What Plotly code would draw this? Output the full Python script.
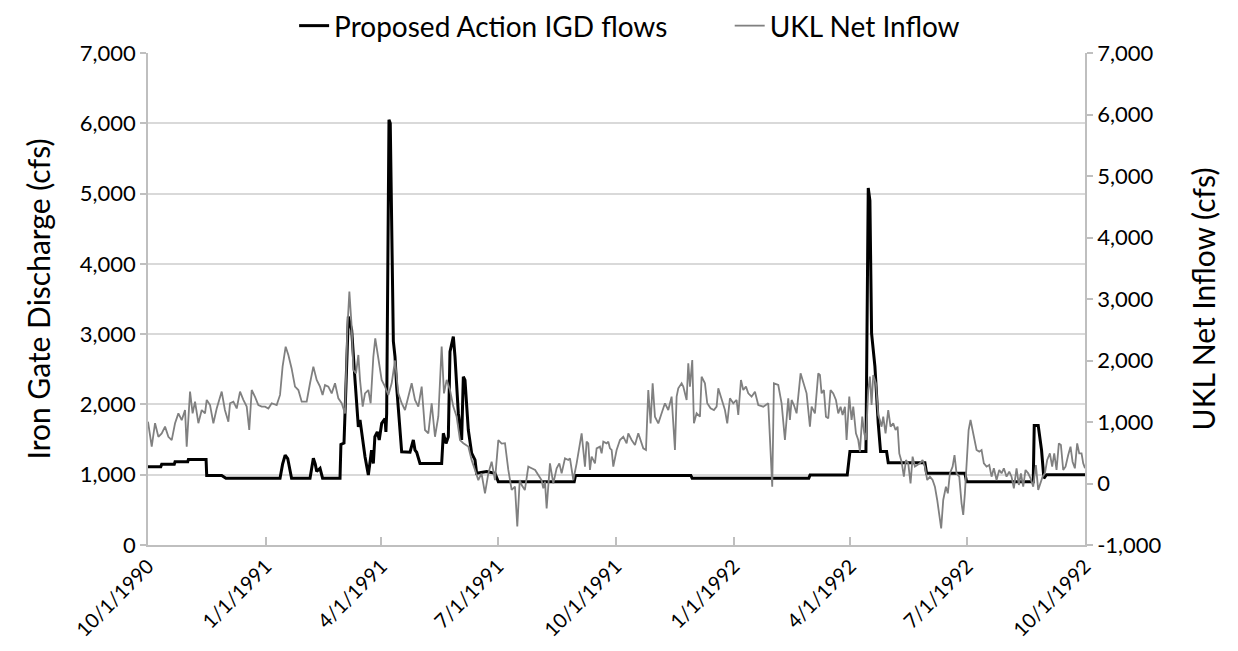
import pandas as pd
import plotly.graph_objects as go

START = pd.Timestamp("1990-10-01")

# Proposed Action IGD flows (left axis), day offsets from 10/1/1990
igd_days = [0, 10, 10.7, 20.5, 21.1, 31, 31.5, 45.3, 45.8, 57.5, 60.8, 103, 105, 107, 109, 112, 126.4, 128, 129, 130.5, 131.6, 133, 134.2, 136.2,
            149.8, 150.5, 152.9, 156.3, 158.9, 161.5, 162.8, 164.1, 165.4, 167.4, 169.3, 171.9, 173.2, 174.4, 175.8, 177, 178.9, 180.4,
            182.3, 184.9, 185.6, 186.2, 188, 189, 191.4, 192.7, 194, 195.3, 197.9, 204.4, 207, 208.3, 209.6, 212.2, 229.1, 230.4,
            232.5, 234.3, 235.6, 238.2, 239.5, 242.1, 244.7, 246, 247.3, 249.9, 252.5, 255.1, 256.4, 264.2, 270.7, 273.3,
            332.5, 333.5, 423.5, 424.5, 515.5, 516.5, 545.5, 547.6, 560.1, 561.9, 563.2, 564.5, 567.1, 569.7, 571.5, 576.2, 577.5,
            606.1, 607.4, 637.3, 638.6, 690.6, 691.4, 694.5, 697.1, 698.9, 701, 731]
igd_cfs = [1115, 1115, 1150, 1150, 1185, 1185, 1215, 1215, 990, 990, 950, 950, 1150, 1280, 1230, 950, 950, 1150, 1235, 1150, 1045, 1070, 1090, 950,
           950, 1430, 1450, 3250, 3060, 2350, 1970, 1680, 1780, 1495, 1255, 995, 1210, 1350, 1160, 1540, 1610, 1495,
           1730, 1800, 1610, 1870, 6050, 6000, 2900, 2680, 2250, 1970, 1325, 1320, 1495, 1350, 1320, 1160, 1160, 1590,
           1445, 1540, 2750, 2965, 2680, 1875, 1495, 2395, 2345, 1635, 1305, 1210, 1020, 1045, 1020, 900,
           900, 990, 990, 950, 950, 995, 995, 1330, 1330, 5080, 4900, 3010, 2540, 1730, 1330, 1330, 1170,
           1170, 1020, 1020, 900, 900, 1700, 1700, 1350, 950, 1000, 1000]

# UKL Net Inflow (right axis), day offsets from 10/1/1990
ukl_days = [0, 2.9, 5.5, 8.1, 10.7, 13.3, 15.9, 18.5, 21.1, 23.7, 26.3, 28.9, 30.2, 32.8, 34.8, 36.7, 39.3, 41.9, 44.5, 45.8,
            48.4, 51, 53.6, 57.5, 60, 62.7, 64, 66.6, 69.2, 71.8, 74.4, 77, 79, 80.9, 83.5, 86.1, 88.7, 91.3, 93.9, 96.5,
            100.4, 103, 105, 107.4, 109.5, 112, 114.7, 117.3, 119.9, 123.8, 126.4, 129, 131.6, 134.2, 136.2, 138.1, 140.7, 143.3, 145.9, 148.5,
            151.1, 153.7, 155.5, 157.1, 158.9, 160.2, 162.3, 164.1, 165.4, 167.5, 169.3, 171.9, 173.7, 175.8, 177.3, 179.7, 182.3, 184.9, 187.5, 190.1,
            192.7, 195.3, 197.9, 200.5, 203.1, 205.7, 208.3, 210.9, 213.5, 216.1, 218.7, 221.3, 223.9, 226.5, 229.1, 230.9, 233, 235.6, 238.2, 240.8,
            243.4, 246, 249.9, 252.5, 255.1, 257.7, 260.2, 262.9, 265.5, 268.1, 270.7, 273.3, 275.9, 278.5, 281.1, 283.7, 286.3, 288.1,
            290, 291.5, 294, 296.7, 299.3, 302, 304.5, 307, 308.4, 309.7, 311, 312.3, 313.6, 316.2, 318.8, 320.9, 322.7, 325.3, 327.9, 329.2,
            331.8, 334.4, 337, 338.3, 340.9, 342.2, 343.5, 344.8, 346.1, 348.7, 350, 352.6, 353.9, 355.2, 357.8, 359.1, 360.4, 361.7, 363, 365.6,
            368.2, 370.8, 373.4, 374.7, 377.3, 379.9, 382.5, 385.1, 386.4, 388.5, 390.3, 392.1, 393.7, 395.5, 398.1, 400.7, 403.3, 405.9, 408.5, 411.1,
            412.4, 413.7, 416.3, 417.6, 420.2, 421.5, 422.8, 424.6, 425.9, 428, 430.6, 431.9, 434.5, 436.3, 438.9, 441.5, 443.6, 444.9, 447.5, 450.1,
            451.9, 454, 456.6, 459.2, 460.5, 462.6, 464.4, 466.5, 468.3, 470.9, 473.5, 476.1, 480, 483.9, 487, 488.3, 491.7, 494.3, 496.9, 499.5,
            500.8, 502.1, 503.9, 506, 509.1, 511.2, 513.8, 516.4, 517.7, 520.3, 522.9,
            524.2, 525.5, 527.3, 528.9, 530.7, 532.5, 534.6, 536.7, 538.5, 540.3, 541.9, 543.7, 545, 547.1, 548.9, 550.2, 552.3, 554.1, 555.4, 557.2,
            558.8, 560.1, 561.9, 563.2, 564.5, 565.8, 567.9, 569.7, 571, 572.3, 573.6, 575.4, 577.5, 579.3, 581.4, 583.2, 584.8, 586.1, 587.9, 589.7,
            591.3, 593.1, 594.9, 596.5, 598.3, 600.1, 602.2, 604.3, 606.1, 607.9, 610, 612.1, 613.9, 615.7, 617.3, 618.8, 620.4, 622.5, 624, 625.6,
            627.7, 629.2, 630.8, 632.9, 634.7, 636, 637.3, 638.6, 640.2, 641.7, 643.3, 644.8, 646.4, 648.5, 650.3, 652.1, 654.2, 656.3, 658.1, 659.9,
            662, 664.1, 665.9, 667.7, 669.8, 671.9, 673.7, 675.5, 677.6, 679.4, 681, 682.8, 684.6, 686.7, 688.5, 690.6, 692.7, 694.5, 696.3, 697.9,
            699.7, 701.5, 703.6, 705.4, 707, 708.8, 710.6, 712.2, 714, 715.8, 717.9, 719.7, 721.3, 723.1, 724.9, 726.5, 728.3, 729.6, 731]
ukl_cfs = [1005, 600, 980, 760, 815, 925, 760, 705, 980, 1140, 1030, 1195, 600, 1495, 1140, 1330, 980, 1195, 1140, 1360,
           1275, 980, 1220, 1495, 1195, 1005, 1305, 1330, 1220, 1495, 1360, 1250, 870, 1520, 1410, 1275, 1250, 1250, 1220, 1305,
           1275, 1440, 1900, 2225, 2090, 1875, 1575, 1520, 1330, 1330, 1630, 1900, 1685, 1575, 1440, 1600, 1575, 1465, 1630, 1385,
           1305, 1140, 2500, 3120, 2550, 1845, 1790, 2090, 1685, 1250, 1465, 1520, 1305, 2060, 2360, 2060, 1685, 1575, 1440, 1630,
           2000, 1465, 1305, 1195, 1410, 1630, 1360, 1250, 1575, 870, 815, 1305, 760, 1090, 2225, 1465, 1685, 1520, 1250, 1085,
           705, 655, 600, 380, 220, 55, 165, -160, 165, 355, 55, 705, 650, 655, 220, -105, -50, -700,
           57, -24, -106, 274, 247, 220, 138, 57, -79, 30, -404, 3, 328, 3, 247, 328, 165, 409, 382, 409,
           57, 328, 653, 816, 274, 680, 653, 220, 436, 328, 572, 599, 490, 680, 653, 680, 572, 545, 274, 545,
           707, 761, 653, 816, 707, 626, 816, 653, 572, 545, 1520, 978, 1629, 1087, 978, 1141, 1304, 1195, 1412, 545,
           1412, 1547, 1629, 1575, 1358, 1954, 1575, 2008, 978, 1141, 1087, 1737, 1629, 1304, 1222, 1195, 1249, 1547, 1358, 1195,
           978, 1385, 1304, 1358, 1114, 1683, 1520, 1575, 1466, 1412, 1493, 1276, 1249, 1304, -51, 1629, 1602, 1304, 707, 1385,
           1032, 1358, 1276, 1141, 1791, 1656, 1466, 924, 1249, 1141, 1791,
           1764, 1466, 1520, 1087, 1060, 1520, 1466, 1358, 1141, 1249, 1114, 1249, 707, 1412, 1033, 1249, 816, 707, 518, 1087,
           816, 707, 1520, 1737, 1276, 1764, 1629, 1114, 1033, 924, 1087, 816, 1195, 924, 978, 870, 924, 490, 355, 111,
           382, 328, 3, 436, 274, 301, 328, 382, 274, 57, 111, 57, -52, -268, -539, -729, -268, -52, -160, 165,
           274, 463, 165, 111, -323, -512, -160, 382, 870, 1033, 870, 762, 545, 518, 545, 328, 274, 301, 111, 247,
           57, 220, 165, 247, 111, 192, 111, -79, 247, -24, 165, -52, 220, 165, 84, -52, 301, -106, 3, 111,
           165, 382, 490, 274, 490, 220, 653, 626, 220, 274, 463, 599, 355, 247, 653, 490, 490, 328, 250]

tick_dates = ["1990-10-01", "1991-01-01", "1991-04-01", "1991-07-01", "1991-10-01",
              "1992-01-01", "1992-04-01", "1992-07-01", "1992-10-01"]
tick_labels = ["10/1/1990", "1/1/1991", "4/1/1991", "7/1/1991", "10/1/1991",
               "1/1/1992", "4/1/1992", "7/1/1992", "10/1/1992"]

left_ticks = [0, 1000, 2000, 3000, 4000, 5000, 6000, 7000]
left_labels = ["0", "1,000", "2,000", "3,000", "4,000", "5,000", "6,000", "7,000"]
right_ticks = [-1000, 0, 1000, 2000, 3000, 4000, 5000, 6000, 7000]
right_labels = ["-1,000", "0", "1,000", "2,000", "3,000", "4,000", "5,000", "6,000", "7,000"]


def to_dates(days):
    return [START + pd.Timedelta(hours=24 * d) for d in days]


FONT = "Lato"
AXC = "#bfbfbf"

fig = go.Figure()
fig.add_trace(go.Scatter(x=to_dates(igd_days), y=igd_cfs, mode="lines",
                         name="Proposed Action IGD flows" + "\u00a0" * 8,
                         line=dict(color="#000000", width=3)))
fig.add_trace(go.Scatter(x=to_dates(ukl_days), y=ukl_cfs, mode="lines",
                         name="UKL Net Inflow", yaxis="y2",
                         line=dict(color="#808080", width=1.8)))

# page body has an 8px default margin, so the figure is sized/offset to compensate
fig.update_layout(
    width=1230, height=643,
    margin=dict(l=140, r=153, t=45, b=106, autoexpand=False),
    paper_bgcolor="white", plot_bgcolor="white",
    font=dict(family=FONT, color="#000000"),
    showlegend=True,
    legend=dict(orientation="h", x=0.514, xanchor="center", y=1.055, yanchor="middle",
                font=dict(size=28, family=FONT), bgcolor="rgba(0,0,0,0)"),
    xaxis=dict(type="date", range=[tick_dates[0], tick_dates[-1]],
               tickmode="array", tickvals=tick_dates, ticktext=tick_labels,
               tickangle=-45, tickfont=dict(size=20, family=FONT),
               showgrid=False, zeroline=False, automargin=False,
               showline=True, linecolor=AXC, linewidth=1.5,
               ticks="inside", ticklen=8, tickcolor=AXC, tickwidth=1.5),
    yaxis=dict(range=[0, 7000], tickmode="array", tickvals=left_ticks, ticktext=left_labels,
               tickfont=dict(size=22, family=FONT), automargin=False,
               showgrid=True, gridcolor="#d9d9d9", gridwidth=1.5, zeroline=False,
               showline=True, linecolor=AXC, linewidth=1.5,
               ticks="outside", ticklen=6, tickcolor=AXC, tickwidth=1.5,
               title=dict(text="Iron Gate Discharge (cfs)", font=dict(size=30, family=FONT), standoff=20)),
    yaxis2=dict(range=[-1000, 7000], overlaying="y", side="right",
                tickmode="array", tickvals=right_ticks, ticktext=right_labels,
                tickfont=dict(size=22, family=FONT), automargin=False,
                showgrid=False, zeroline=False,
                showline=True, linecolor=AXC, linewidth=1.5,
                ticks="outside", ticklen=6, tickcolor=AXC, tickwidth=1.5,
                title=dict(text="UKL Net Inflow (cfs)", font=dict(size=30, family=FONT), standoff=33)),
)

fig.write_html("out.html")
